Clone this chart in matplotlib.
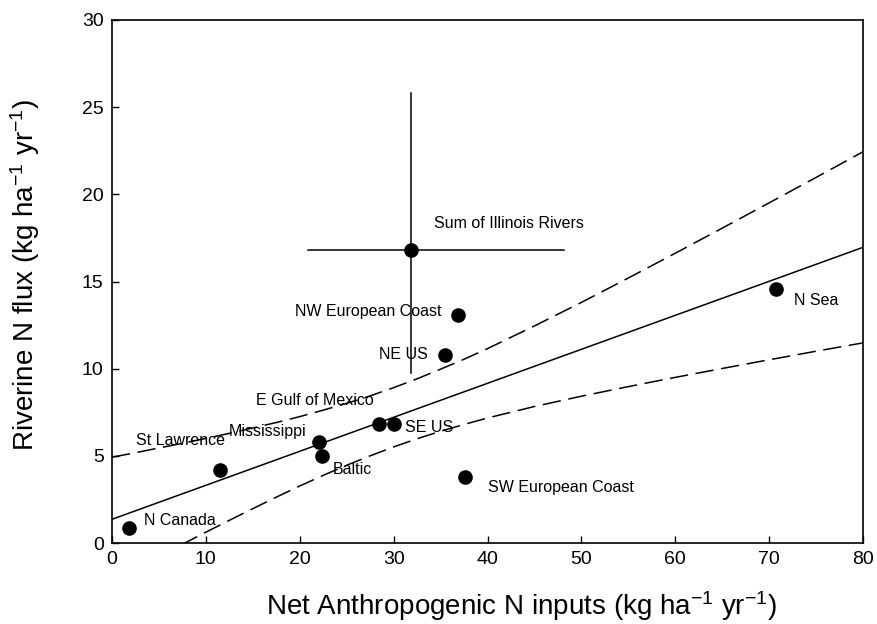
import matplotlib
matplotlib.use("Agg")
import matplotlib.pyplot as plt
import numpy as np

plt.rcParams['font.family'] = ['Liberation Sans', 'DejaVu Sans']
plt.rcParams['mathtext.fontset'] = 'custom'
plt.rcParams['mathtext.rm'] = 'Liberation Sans'
plt.rcParams['mathtext.it'] = 'Liberation Sans'

# ---- data ----
regions = ["N Canada", "St Lawrence", "Mississippi", "Baltic", "E Gulf of Mexico",
           "SE US", "SW European Coast", "NE US", "NW European Coast", "N Sea",
           "Sum of Illinois Rivers"]
n_inputs = [1.8, 11.5, 22.0, 22.4, 28.4, 30.0, 37.6, 35.5, 36.9, 70.7, 31.8]
n_flux   = [0.85, 4.2, 5.8, 5.0, 6.85, 6.85, 3.8, 10.8, 13.05, 14.55, 16.8]

# Illinois range (error bars)
illinois_x_range = [20.9, 48.1]
illinois_y_range = [9.75, 25.8]

# regression line and confidence bands
fit_x = [0, 80]
fit_y = [1.36, 16.96]
band_x     = [0, 2.5, 5, 7.5, 10, 12.5, 15, 17.5, 20, 22.5, 25, 27.5, 30,
              32.5, 35, 37.5, 40, 45, 50, 55, 60, 65, 70, 75, 80]
band_upper = [4.92, 5.18, 5.45, 5.72, 6.00, 6.29, 6.60, 6.91, 7.25, 7.62, 8.01, 8.44, 8.91,
              9.42, 9.97, 10.54, 11.15, 12.45, 13.80, 15.20, 16.62, 18.06, 19.51, 20.97, 22.44]
band_lower = [-2.20, -1.49, -0.78, -0.07, 0.62, 1.30, 1.97, 2.63, 3.27, 3.88, 4.46, 5.00, 5.51,
              5.98, 6.41, 6.80, 7.17, 7.83, 8.42, 8.97, 9.50, 10.01, 10.51, 11.00, 11.48]

x_ticks = [0, 10, 20, 30, 40, 50, 60, 70, 80]
y_ticks = [0, 5, 10, 15, 20, 25, 30]

# label placement (data coords, alignment)
label_pos = {
    "N Canada": (3.4, 1.3, 'left'),
    "St Lawrence": (2.6, 5.9, 'left'),
    "Mississippi": (12.4, 6.4, 'left'),
    "Baltic": (23.5, 4.2, 'left'),
    "E Gulf of Mexico": (15.3, 8.15, 'left'),
    "SE US": (31.2, 6.65, 'left'),
    "SW European Coast": (40.0, 3.2, 'left'),
    "NE US": (33.6, 10.8, 'right'),
    "NW European Coast": (35.1, 13.3, 'right'),
    "N Sea": (72.7, 13.9, 'left'),
    "Sum of Illinois Rivers": (34.3, 18.3, 'left'),
}

fig = plt.figure(figsize=(8.77, 6.24), dpi=100)
ax = fig.add_axes([112/877, 1-543/624, 751/877, 523/624])

ax.plot(fit_x, fit_y, color='black', lw=1.1)
ax.plot(band_x, band_upper, color='black', lw=1.1, dashes=(12, 5))
ax.plot(band_x, band_lower, color='black', lw=1.1, dashes=(12, 5))

ix, iy = n_inputs[-1], n_flux[-1]
ax.plot(illinois_x_range, [iy, iy], color='black', lw=1.1)
ax.plot([ix, ix], illinois_y_range, color='black', lw=1.1)

ax.plot(n_inputs, n_flux, 'o', color='black', markersize=9.5, zorder=5)

for name in regions:
    x, y, ha = label_pos[name]
    ax.text(x, y, name, fontsize=11.5, ha=ha, va='center', color='black')

ax.set_xlim(0, 80)
ax.set_ylim(0, 30)
ax.set_xticks(x_ticks)
ax.set_yticks(y_ticks)
ax.tick_params(direction='in', length=5, width=1, labelsize=14, pad=6,
               top=False, right=False)
for s in ax.spines.values():
    s.set_linewidth(1.2)

ax.set_xlabel(r'Net Anthropogenic N inputs (kg ha$^{\mathregular{-1}}$ yr$^{\mathregular{-1}}$)', fontsize=20)
ax.set_ylabel(r'Riverine N flux (kg ha$^{\mathregular{-1}}$ yr$^{\mathregular{-1}}$)', fontsize=20)
ax.xaxis.set_label_coords(0.545, -0.089)
ax.yaxis.set_label_coords(-0.093, 0.513)

fig.savefig('out.png', dpi=100)
